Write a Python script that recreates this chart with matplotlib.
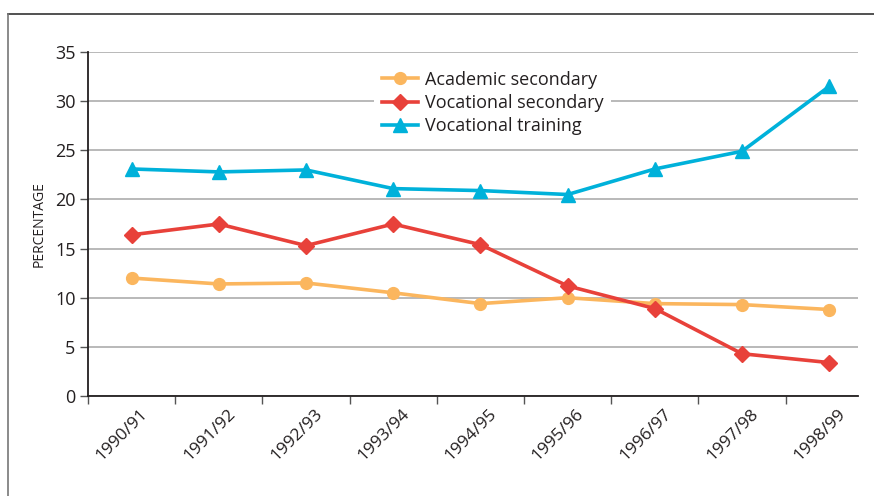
import matplotlib.pyplot as plt
import matplotlib.transforms as mtransforms
from matplotlib.lines import Line2D

plt.rcParams['font.family'] = ['Open Sans', 'DejaVu Sans']

# data
years = ['1990/91', '1991/92', '1992/93', '1993/94', '1994/95',
         '1995/96', '1996/97', '1997/98', '1998/99']
academic = [12.0, 11.4, 11.5, 10.5, 9.4, 10.0, 9.4, 9.3, 8.8]
voc_secondary = [16.4, 17.5, 15.3, 17.5, 15.4, 11.2, 8.9, 4.3, 3.4]
voc_training = [23.1, 22.8, 23.0, 21.1, 20.9, 20.5, 23.1, 24.9, 31.5]

c_acad = '#fbb65e'
c_vsec = '#e8413a'
c_vtra = '#00b1da'
txt = '#231f20'

fig = plt.figure(figsize=(8.74, 4.96), dpi=100)
ax = fig.add_axes([88 / 874, 1 - 396 / 496, 770 / 874, 344 / 496])

# outer frame (cut off at right and bottom)
fig.add_artist(Line2D([8 / 874, 1], [1 - 14 / 496, 1 - 14 / 496],
                      transform=fig.transFigure, color='#333333', lw=1.2))
fig.add_artist(Line2D([8 / 874, 8 / 874], [0, 1 - 14 / 496],
                      transform=fig.transFigure, color='#777777', lw=1.2))

x = list(range(len(years)))
ax.plot(x, academic, color=c_acad, lw=2.6, marker='o', ms=8.5,
        label='Academic secondary', zorder=3)
ax.plot(x, voc_secondary, color=c_vsec, lw=2.6, marker='D', ms=8,
        label='Vocational secondary', zorder=4)
ax.plot(x, voc_training, color=c_vtra, lw=2.6, marker='^', ms=10,
        label='Vocational training', zorder=5)

ax.set_ylim(0, 35)
ax.set_xlim(-0.5, 8.33)
ax.set_yticks(range(0, 36, 5))
ax.yaxis.grid(True, color='#b3b3b3', lw=1.3)
ax.set_axisbelow(True)

for s in ['top', 'right']:
    ax.spines[s].set_visible(False)
for s in ['left', 'bottom']:
    ax.spines[s].set_color('#231f20')
    ax.spines[s].set_linewidth(1.3)

# major ticks at category borders, labels on minor ticks at centres
ax.set_xticks([i - 0.5 for i in x])
ax.set_xticklabels([])
ax.set_xticks(x, minor=True)
ax.set_xticklabels(years, minor=True, rotation=45, ha='right',
                   va='center', rotation_mode='anchor', fontsize=12.5,
                   color=txt)
ax.tick_params(axis='x', which='major', length=6, width=1, color='#555555')
ax.tick_params(axis='x', which='minor', length=0, pad=11)
ax.tick_params(axis='y', length=6, width=1, color='#555555', labelsize=13,
               labelcolor=txt, pad=3)
offset = mtransforms.ScaledTranslation(14 / 100, 0, fig.dpi_scale_trans)
for lab in ax.get_xticklabels(minor=True):
    lab.set_transform(lab.get_transform() + offset)

ax.set_ylabel('PERCENTAGE', fontsize=10, color=txt, labelpad=6)

leg = ax.legend(loc='upper left', bbox_to_anchor=(0.372, 0.967),
                frameon=True, fontsize=13, handlelength=2.0,
                handletextpad=0.4, labelspacing=0.3, borderpad=0.4,
                borderaxespad=0)
leg.get_frame().set_facecolor('white')
leg.get_frame().set_edgecolor('none')
leg.get_frame().set_alpha(1)
for t in leg.get_texts():
    t.set_color(txt)

fig.savefig('out.png', dpi=100)
